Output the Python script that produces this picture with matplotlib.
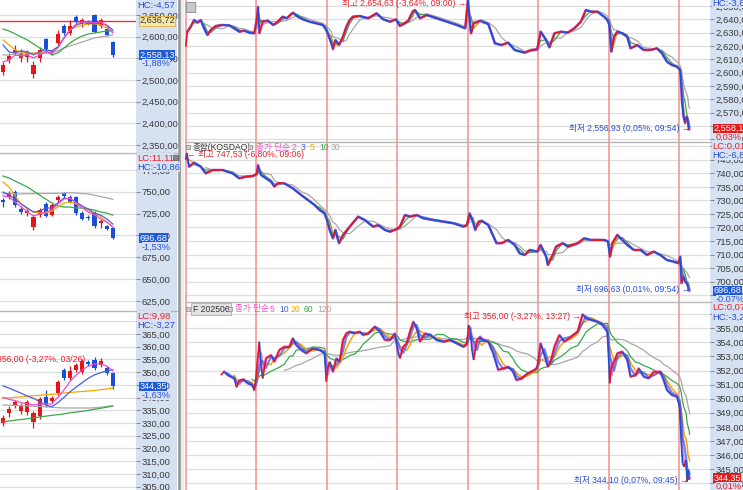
import numpy as np
import pandas as pd
import matplotlib
matplotlib.use("Agg")
import matplotlib.pyplot as plt
from matplotlib.collections import LineCollection
from matplotlib.patches import Rectangle, FancyBboxPatch
from matplotlib.lines import Line2D
from matplotlib.ticker import FuncFormatter

plt.rcParams['font.family'] = ['Liberation Sans', 'Noto Sans CJK KR', 'DejaVu Sans']

# ---------------- daily candles (left column) ----------------
kospi_d_open = [2518.7, 2546.3, 2565.0, 2550.9, 2553.2, 2514.0, 2550.9, 2594.7, 2562.4, 2585.5,
                2624.7, 2608.5, 2645.4, 2633.9, 2631.6, 2650.0, 2624.7, 2617.7, 2587.8]
kospi_d_high = [2541.7, 2562.4, 2580.9, 2571.7, 2569.4, 2544.0, 2576.3, 2597.0, 2569.4, 2615.4,
                2629.3, 2638.5, 2650.0, 2643.1, 2638.5, 2652.3, 2643.1, 2622.4, 2590.1]
kospi_d_low = [2511.8, 2539.4, 2557.8, 2541.7, 2541.7, 2504.8, 2541.7, 2564.8, 2557.8, 2580.9,
               2603.9, 2603.9, 2631.6, 2622.4, 2627.0, 2608.5, 2620.0, 2601.6, 2553.2]
kospi_d_close = [2534.8, 2555.5, 2569.4, 2562.4, 2564.7, 2534.8, 2569.4, 2571.7, 2567.0, 2606.2,
                 2608.5, 2624.7, 2633.9, 2638.5, 2629.3, 2610.8, 2638.5, 2603.9, 2558.13]
kospi_d_ma5 = [2541.7, 2546.3, 2557.8, 2555.5, 2557.8, 2550.9, 2557.8, 2564.8, 2562.4, 2574.0,
               2597.0, 2615.4, 2629.3, 2633.9, 2633.9, 2631.6, 2633.9, 2624.7, 2608.5]
kospi_d_ma10 = [2580.9, 2564.8, 2562.4, 2567.1, 2564.8, 2557.8, 2564.8, 2569.4, 2567.1, 2576.3,
                2597.0, 2615.4, 2627.0, 2631.6, 2631.6, 2629.3, 2631.6, 2627.0, 2615.4]
kospi_d_ma20 = [2592.4, 2580.9, 2569.4, 2564.8, 2562.4, 2562.4, 2562.4, 2562.4, 2567.1, 2576.3,
                2597.0, 2615.4, 2622.3, 2627.0, 2629.3, 2629.3, 2627.0, 2620.0, 2610.8]
kospi_d_ma60 = [2617.7, 2613.1, 2606.2, 2599.3, 2592.4, 2583.2, 2574.0, 2567.1, 2557.8, 2562.4,
                2574.0, 2585.5, 2594.7, 2601.6, 2606.2, 2608.5, 2610.8, 2613.1, 2613.1]
kospi_d_ma120 = [2557.8, 2557.8, 2560.1, 2560.1, 2560.1, 2561.2, 2562.4, 2562.4, 2562.4, 2567.1,
                 2574.0, 2578.6, 2583.2, 2587.8, 2592.4, 2597.0, 2599.3, 2601.6, 2603.9]
kospi_prev_level = 2636.72

kosdaq_d_open = [740.5, 743.9, 749.7, 730.2, 725.7, 709.6, 723.3, 735.9, 723.3, 740.5,
                 748.5, 743.9, 743.9, 725.6, 721.1, 725.6, 714.2, 710.8, 708.5]
kosdaq_d_high = [742.8, 750.8, 751.9, 733.6, 731.4, 723.3, 731.4, 738.2, 737.1, 746.2,
                 749.7, 746.2, 745.1, 727.9, 723.3, 727.9, 718.8, 712.0, 709.6]
kosdaq_d_low = [732.5, 741.6, 732.5, 724.5, 722.2, 706.2, 721.1, 721.1, 722.2, 738.2,
                742.8, 737.1, 723.3, 717.6, 717.6, 708.5, 708.5, 706.2, 695.9]
kosdaq_d_close = [738.2, 748.5, 734.8, 726.8, 727.9, 721.1, 729.1, 722.2, 734.8, 743.9,
                  745.1, 738.2, 725.6, 718.8, 719.9, 710.8, 716.5, 707.3, 696.68]
kosdaq_d_ma5 = [745.1, 743.9, 738.2, 732.5, 726.8, 722.2, 724.5, 726.8, 729.1, 735.9,
                741.6, 742.8, 737.1, 731.4, 726.8, 723.3, 718.8, 715.3, 709.6]
kosdaq_d_ma10 = [749.7, 746.2, 741.6, 735.9, 731.4, 726.8, 727.9, 731.4, 731.4, 737.1,
                 742.8, 741.6, 738.2, 733.6, 730.2, 725.6, 723.3, 718.8, 713.0]
kosdaq_d_ma20 = [761.1, 755.4, 745.1, 736.0, 730.2, 726.8, 725.6, 725.6, 727.9, 732.5,
                 737.1, 738.2, 736.0, 731.4, 727.9, 725.6, 721.0, 715.3, 709.6]
kosdaq_d_ma60 = [768.0, 765.7, 762.2, 758.8, 755.4, 750.8, 746.2, 741.6, 737.1, 733.6,
                 732.5, 732.5, 731.4, 731.4, 730.2, 729.1, 726.8, 725.6, 723.3]
kosdaq_d_ma120 = [747.5, 747.5, 747.5, 747.5, 747.6, 747.8, 748.0, 748.0, 748.0, 748.2,
                  748.5, 748.9, 748.5, 747.8, 747.4, 746.0, 744.5, 743.0, 741.3]

fut_d_open = [330.0, 334.0, 337.1, 334.7, 334.4, 330.4, 332.8, 340.2, 338.7, 341.8,
              350.9, 347.7, 350.9, 350.1, 354.0, 354.8, 352.8, 351.6, 349.7]
fut_d_high = [333.2, 336.7, 339.1, 337.9, 339.1, 334.7, 340.2, 343.0, 340.6, 346.9,
              351.6, 352.4, 353.6, 355.2, 354.8, 356.0, 355.6, 352.4, 350.1]
fut_d_low = [328.9, 332.4, 335.9, 333.6, 333.2, 328.1, 331.6, 336.3, 337.9, 341.0,
             346.9, 346.9, 350.1, 349.3, 352.4, 350.9, 352.0, 348.9, 343.4]
fut_d_close = [332.0, 335.5, 338.3, 336.7, 338.3, 334.0, 339.5, 337.1, 339.9, 346.1,
               347.7, 350.5, 352.8, 354.4, 353.2, 351.6, 354.4, 349.7, 344.35]
fut_d_ma5 = [340.1, 339.3, 338.8, 338.0, 337.5, 337.1, 337.4, 337.5, 337.5, 340.1,
             343.0, 346.3, 348.9, 350.9, 352.4, 353.2, 353.2, 352.4, 350.6]
fut_d_ma10 = [344.6, 343.7, 342.7, 341.7, 340.6, 339.7, 338.4, 337.1, 336.4, 338.0,
              340.1, 342.3, 344.1, 345.9, 347.6, 348.9, 349.8, 350.5, 350.9]
fut_d_ma20 = [339.7, 339.9, 340.1, 340.3, 340.5, 340.7, 340.9, 341.1, 341.3, 341.5,
              341.8, 342.0, 342.2, 342.4, 342.6, 342.8, 343.1, 343.4, 343.7]
fut_d_ma60 = [330.5, 330.8, 331.1, 331.4, 331.7, 332.0, 332.4, 332.7, 333.0, 333.3,
              333.6, 334.0, 334.3, 334.6, 335.0, 335.4, 335.8, 336.2, 336.7]
fut_d_ma120 = [337.1, 337.0, 336.9, 336.8, 336.7, 336.6, 336.5, 336.4, 336.2, 336.0,
               335.9, 335.9, 335.9, 335.9, 335.9, 336.0, 336.2, 336.5, 336.8]

# ---------------- intraday (right column), t = session day index + fraction ----------------
kospi_t = [0.000, 0.024, 0.071, 0.119, 0.166, 0.214, 0.261, 0.309, 0.356, 0.428, 0.523, 0.618, 0.689,
           0.760, 0.831, 0.903, 0.974, 1.007, 1.026, 1.045, 1.093, 1.164, 1.245, 1.306, 1.378, 1.435,
           1.520, 1.591, 1.663, 1.758, 1.853, 1.948, 1.995, 2.033, 2.067, 2.090, 2.124, 2.176, 2.233,
           2.280, 2.328, 2.375, 2.470, 2.589, 2.708, 2.803, 2.898, 2.983, 3.040, 3.088, 3.159, 3.221,
           3.254, 3.325, 3.420, 3.563, 3.705, 3.848, 3.967, 4.005, 4.048, 4.086, 4.181, 4.200, 4.294,
           4.388, 4.482, 4.576, 4.669, 4.810, 4.904, 4.989, 5.036, 5.115, 5.162, 5.233, 5.327, 5.421,
           5.515, 5.608, 5.679, 5.749, 5.843, 5.937, 5.984, 6.012, 6.040, 6.078, 6.125, 6.195, 6.266,
           6.313, 6.407, 6.500, 6.594, 6.688, 6.759, 6.829, 6.900, 6.970, 7.017, 7.040, 7.064, 7.087,
           7.111, 7.125, 7.138, 7.148]
kospi_p = [2619.5, 2630.75, 2634.5, 2639.5, 2637.5, 2639.5, 2633.25, 2628.25, 2632.0, 2635.0, 2635.75,
           2635.5, 2633.25, 2630.75, 2631.5, 2630.0, 2629.5, 2639.5, 2649.5, 2629.5, 2638.25, 2639.0,
           2635.75, 2638.25, 2642.0, 2640.75, 2645.0, 2642.0, 2640.0, 2638.25, 2637.0, 2635.75, 2632.0,
           2627.0, 2622.0, 2617.5, 2624.5, 2620.75, 2627.0, 2634.5, 2639.5, 2642.0, 2642.5, 2640.75,
           2644.5, 2640.0, 2638.25, 2640.0, 2635.0, 2636.5, 2639.0, 2645.75, 2647.0, 2640.75, 2643.25,
           2640.75, 2638.25, 2635.75, 2633.25, 2654.63, 2629.5, 2637.0, 2639.0, 2638.25, 2636.5, 2622.0,
           2620.75, 2622.5, 2617.0, 2615.0, 2617.0, 2617.5, 2630.75, 2624.5, 2619.0, 2629.5, 2630.75,
           2630.0, 2633.25, 2638.25, 2647.0, 2645.75, 2645.75, 2642.0, 2639.5, 2635.75, 2615.75, 2627.0,
           2630.75, 2629.5, 2627.0, 2618.25, 2620.75, 2617.0, 2617.0, 2618.25, 2614.5, 2608.25, 2605.75,
           2604.5, 2602.0, 2579.5, 2567.0, 2562.0, 2567.0, 2563.25, 2556.93, 2558.13]

kosdaq_t = [0.000, 0.015, 0.048, 0.119, 0.214, 0.285, 0.380, 0.523, 0.665, 0.760, 0.855, 0.950, 1.007,
            1.026, 1.069, 1.140, 1.211, 1.259, 1.306, 1.401, 1.520, 1.639, 1.734, 1.829, 1.900, 1.971,
            2.005, 2.043, 2.090, 2.124, 2.176, 2.233, 2.328, 2.447, 2.542, 2.660, 2.732, 2.827, 2.898,
            2.983, 3.040, 3.112, 3.183, 3.278, 3.373, 3.515, 3.658, 3.800, 3.943, 3.990, 4.029, 4.076,
            4.109, 4.157, 4.200, 4.294, 4.411, 4.482, 4.576, 4.669, 4.740, 4.810, 4.881, 4.989, 5.036,
            5.115, 5.139, 5.209, 5.256, 5.350, 5.421, 5.562, 5.655, 5.749, 5.843, 5.937, 5.993, 6.022,
            6.054, 6.125, 6.195, 6.266, 6.360, 6.454, 6.547, 6.641, 6.735, 6.829, 6.923, 6.993, 7.017,
            7.035, 7.064, 7.087, 7.111, 7.125, 7.138, 7.148]
kosdaq_p = [744.9, 747.53, 742.45, 743.9, 742.45, 740.0, 741.2, 741.2, 740.0, 738.15, 738.75, 739.0,
            739.75, 743.1, 739.4, 738.15, 736.9, 735.1, 736.3, 736.3, 734.45, 732.0, 730.15, 728.3,
            726.45, 725.2, 722.75, 719.1, 716.0, 719.1, 714.2, 717.25, 720.3, 724.0, 722.75, 720.3,
            720.9, 719.1, 718.45, 719.3, 720.3, 724.6, 724.0, 724.6, 723.4, 722.75, 722.15, 721.55,
            720.3, 720.9, 725.2, 722.15, 719.1, 722.15, 722.5, 720.9, 714.2, 714.2, 715.4, 713.55,
            710.45, 709.85, 711.7, 711.1, 713.55, 709.25, 706.15, 709.85, 712.95, 714.2, 712.95, 714.2,
            716.0, 715.4, 715.4, 715.4, 714.8, 709.25, 714.2, 717.25, 715.4, 713.55, 711.7, 711.7,
            709.85, 711.1, 709.85, 708.0, 707.4, 706.8, 709.25, 699.4, 701.85, 700.0, 699.4, 698.2,
            696.63, 696.68]

fut_t = [0.499, 0.546, 0.594, 0.641, 0.689, 0.722, 0.760, 0.817, 0.879, 0.941, 0.974, 0.998, 1.021,
         1.045, 1.069, 1.093, 1.140, 1.211, 1.259, 1.330, 1.401, 1.473, 1.520, 1.568, 1.639, 1.710,
         1.805, 1.900, 1.971, 1.995, 2.019, 2.043, 2.090, 2.138, 2.185, 2.233, 2.280, 2.328, 2.399,
         2.470, 2.518, 2.589, 2.684, 2.755, 2.827, 2.898, 2.969, 3.017, 3.040, 3.088, 3.135, 3.183,
         3.230, 3.278, 3.325, 3.397, 3.468, 3.563, 3.658, 3.753, 3.848, 3.943, 3.990, 4.014, 4.038,
         4.062, 4.086, 4.133, 4.181, 4.200, 4.294, 4.364, 4.435, 4.505, 4.576, 4.646, 4.693, 4.763,
         4.857, 4.951, 4.989, 5.036, 5.092, 5.139, 5.186, 5.233, 5.303, 5.374, 5.468, 5.562, 5.632,
         5.679, 5.749, 5.843, 5.914, 5.984, 6.017, 6.040, 6.078, 6.125, 6.195, 6.266, 6.313, 6.383,
         6.430, 6.500, 6.571, 6.641, 6.735, 6.782, 6.829, 6.900, 6.970, 7.008, 7.031, 7.050, 7.073,
         7.101, 7.115, 7.130, 7.144, 7.150]
fut_p = [351.68, 351.92, 351.68, 351.56, 351.44, 350.80, 351.32, 351.37, 351.09, 350.97, 350.57, 351.56,
         352.86, 354.05, 352.27, 351.44, 352.86, 353.10, 352.63, 353.46, 353.69, 353.69, 354.29, 353.81,
         353.46, 353.22, 353.57, 353.46, 353.22, 351.21, 352.27, 352.63, 351.92, 352.86, 352.63, 354.17,
         354.64, 354.76, 354.64, 354.76, 354.52, 354.64, 355.11, 354.76, 354.17, 354.17, 354.64, 353.22,
         352.86, 353.69, 353.93, 354.76, 355.47, 355.00, 354.05, 354.64, 354.52, 354.17, 354.05, 354.17,
         353.93, 353.69, 353.93, 355.23, 354.88, 353.46, 352.75, 354.17, 354.40, 354.17, 354.05, 353.22,
         352.04, 352.15, 352.27, 351.92, 351.32, 351.44, 351.80, 352.04, 352.27, 353.93, 353.10, 352.27,
         352.75, 353.69, 354.52, 354.05, 354.40, 354.76, 356.00, 355.71, 355.59, 355.47, 355.23, 354.76,
         351.09, 352.27, 352.63, 353.22, 353.34, 352.75, 351.56, 351.68, 352.15, 351.56, 351.44, 351.92,
         351.92, 351.32, 350.61, 350.26, 350.14, 349.43, 347.06, 345.40, 345.16, 345.64, 344.10, 344.90,
         344.22, 344.35]

# ---------------- style ----------------
W, H = 743, 490
fig = plt.figure(figsize=(W / 100, H / 100), dpi=100)
fig.patch.set_facecolor('white')

UP, DN = '#e8141c', '#1a4fd6'
PINK, BLUE, ORANGE, GREEN, GREY = '#f04cc8', '#4a5ee0', '#f5a800', '#3aa84a', '#a8a8a8'
SEP = '#f09090'
AXBG = '#d6e2f2'
RED_T, BLUE_T = '#e8202a', '#2a4fd6'


def add_ax(x0, y0, x1, y1):
    return fig.add_axes([x0 / W, 1 - y1 / H, (x1 - x0) / W, (y1 - y0) / H])


def ftext(x, y, s, **kw):
    kw.setdefault('va', 'center')
    kw.setdefault('ha', 'left')
    kw.setdefault('fontsize', 6.8)
    return fig.text(x / W, 1 - y / H, s, **kw)


def frect(x0, y0, x1, y1, **kw):
    r = Rectangle((x0 / W, 1 - y1 / H), (x1 - x0) / W, (y1 - y0) / H, transform=fig.transFigure, **kw)
    fig.add_artist(r)
    return r


def fline(x0, y0, x1, y1, **kw):
    fig.add_artist(Line2D([x0 / W, x1 / W], [1 - y0 / H, 1 - y1 / H], transform=fig.transFigure, **kw))


def kfmt(v, pos=None):
    return f"{v:,.2f}".replace('.', ',')


def style(ax, ylim, ticks):
    ax.set_ylim(*ylim)
    ax.set_yticks(ticks)
    ax.yaxis.tick_right()
    ax.yaxis.set_major_formatter(FuncFormatter(kfmt))
    ax.tick_params(axis='y', direction='out', length=3, width=0.6, color='#777', pad=1,
                   labelsize=6.8, labelcolor='#3a3a3a')
    ax.set_xticks([])
    for s in ax.spines.values():
        s.set_visible(False)
    ax.grid(axis='y', color='#dedede', lw=0.9)
    ax.set_axisbelow(True)
    ax.set_facecolor('white')


# axis backgrounds
frect(136, 0, 177, H, facecolor=AXBG, edgecolor='none', zorder=-5)
frect(710, 0, W, H, facecolor=AXBG, edgecolor='none', zorder=-5)


def draw_daily(ax, o, h, l, c, mas, xlim):
    o, h, l, c = map(np.asarray, (o, h, l, c))
    x = np.arange(len(o))
    cols = np.where(c >= o, UP, DN)
    ax.vlines(x, l, h, colors=cols, lw=0.9, zorder=2)
    rng = ax.get_ylim()[1] - ax.get_ylim()[0]
    body = np.maximum(np.abs(c - o), rng * 0.006)
    ax.bar(x, body, bottom=np.minimum(o, c), width=0.66, color=cols, zorder=3)
    for vals, col in mas:
        ax.plot(x, vals, color=col, lw=0.9, zorder=4)
    ax.set_xlim(*xlim)


def intraday_ma(t, p, minutes):
    t = np.asarray(t, float)
    idx = pd.Timestamp('2025-01-01') + pd.to_timedelta(t * 390, unit='min')
    s = pd.Series(np.asarray(p, float), index=idx)
    m = s.rolling(f'{minutes}min').mean().to_numpy()
    m[(t - t[0]) * 390 < minutes * 0.95] = np.nan
    return m


def draw_intraday(ax, t, p, windows):
    t = np.asarray(t, float)
    p = np.asarray(p, float)
    for d in range(8):
        ax.axvline(d, color=SEP, lw=1.1, zorder=1)
    pts = np.column_stack([t, p])
    segs = np.stack([pts[:-1], pts[1:]], axis=1)
    cols = np.where(np.diff(p) >= 0, UP, DN)
    (w1, c1), (w2, c2), (w3, c3), (w4, c4), (w5, c5) = windows
    ax.plot(t, intraday_ma(t, p, w5), color=c5, lw=0.9, zorder=2)
    ax.plot(t, intraday_ma(t, p, w4), color=c4, lw=0.9, zorder=2.1)
    ax.plot(t, intraday_ma(t, p, w3), color=c3, lw=1.1, zorder=2.2)
    ax.plot(t, intraday_ma(t, p, w1), color=c1, lw=1.9, zorder=2.3, alpha=0.75)
    ax.plot(t, intraday_ma(t, p, w2), color=c2, lw=1.6, zorder=2.4, alpha=0.75)
    ax.add_collection(LineCollection(segs, colors=cols, linewidths=1.2, zorder=3))
    ax.set_xlim(-0.01, 7.44)


# ---------------- left column ----------------
XL = (-0.49, 21.8)
ax1 = add_ax(0, 0, 136, 153)
style(ax1, (2331.6, 2684.6), np.arange(2350, 2651, 50))
ax1.axhline(kospi_prev_level, color='#f03030', lw=1.0, zorder=1)
draw_daily(ax1, kospi_d_open, kospi_d_high, kospi_d_low, kospi_d_close,
           [(kospi_d_ma120, GREY), (kospi_d_ma60, GREEN), (kospi_d_ma20, ORANGE),
            (kospi_d_ma10, BLUE), (kospi_d_ma5, PINK)], XL)

ax2 = add_ax(0, 153, 136, 311)
style(ax2, (613.6, 794.3), np.arange(625, 776, 25))
draw_daily(ax2, kosdaq_d_open, kosdaq_d_high, kosdaq_d_low, kosdaq_d_close,
           [(kosdaq_d_ma120, GREY), (kosdaq_d_ma60, GREEN), (kosdaq_d_ma20, ORANGE),
            (kosdaq_d_ma10, BLUE), (kosdaq_d_ma5, PINK)], XL)

ax3 = add_ax(0, 311, 136, 490)
style(ax3, (303.7, 374.0), np.arange(305, 371, 5))
draw_daily(ax3, fut_d_open, fut_d_high, fut_d_low, fut_d_close,
           [(fut_d_ma120, GREY), (fut_d_ma60, GREEN), (fut_d_ma20, ORANGE),
            (fut_d_ma10, BLUE), (fut_d_ma5, PINK)], XL)
i_hi = int(np.argmax(fut_d_high))
ax3.annotate("최고 356,00 (-3,27%, 03/26)", xy=(i_hi, fut_d_high[i_hi]), xytext=(-7, -2),
             textcoords='offset points', ha='right', va='center', fontsize=6.2, color=RED_T,
             annotation_clip=False, zorder=6)

# ---------------- right column ----------------
W_A = [(6, PINK), (9, BLUE), (15, ORANGE), (30, GREEN), (90, GREY)]
W_B = [(15, PINK), (30, BLUE), (60, ORANGE), (180, GREEN), (360, GREY)]

bx1 = add_ax(185, 0, 710, 142)
style(bx1, (2548.0, 2654.5), np.arange(2550, 2651, 10))
draw_intraday(bx1, kospi_t, kospi_p, W_A)

bx2 = add_ax(185, 142, 710, 302)
style(bx2, (692.5, 751.55), np.arange(695, 751, 5))
draw_intraday(bx2, kosdaq_t, kosdaq_p, W_A)

bx3 = add_ax(185, 302, 710, 490)
style(bx3, (343.51, 356.87), np.arange(344, 357, 1))
draw_intraday(bx3, fut_t, fut_p, W_B)


def hi_lo(ax, t, p, hi_txt, lo_txt, hi_left=False, hi_dy=-1.5):
    t = np.asarray(t)
    p = np.asarray(p)
    ih, il = int(np.argmax(p)), int(np.argmin(p))
    if hi_left:
        ax.annotate(hi_txt, xy=(t[ih], p[ih]), xytext=(0, hi_dy), textcoords='offset points',
                    ha='left', va='center', fontsize=6.2, color=RED_T, annotation_clip=False, zorder=6)
    else:
        ax.annotate(hi_txt, xy=(t[ih], p[ih]), xytext=(-1, hi_dy), textcoords='offset points',
                    ha='right', va='center', fontsize=6.2, color=RED_T, annotation_clip=False, zorder=6)
    ax.annotate(lo_txt, xy=(t[il], p[il]), xytext=(1, 1), textcoords='offset points',
                ha='right', va='center', fontsize=6.2, color=BLUE_T, annotation_clip=False, zorder=6)


hi_lo(bx1, kospi_t, kospi_p, "최고 2,654,63 (-3,64%, 09:00) →", "최저 2,556,93 (0,05%, 09:54) →", hi_dy=-2.5)
hi_lo(bx2, kosdaq_t, kosdaq_p, "← 최고 747,53 (-6,80%, 09:06)", "최저 696,63 (0,01%, 09:54) →",
      hi_left=True, hi_dy=-1)
hi_lo(bx3, fut_t, fut_p, "최고 356,00 (-3,27%, 13:27) →", "최저 344,10 (0,07%, 09:45) →")


def value_box(ax, val, fc, sub, subc, tc='white'):
    ax.annotate(kfmt(val), xy=(1, val), xycoords=('axes fraction', 'data'), xytext=(2.5, 0),
                textcoords='offset points', ha='left', va='center', fontsize=6.6, color=tc,
                bbox=dict(boxstyle='square,pad=0.04', fc=fc, ec='none'), zorder=10, annotation_clip=False)
    ax.annotate(sub, xy=(1, val), xycoords=('axes fraction', 'data'), xytext=(4, -6.2),
                textcoords='offset points', ha='left', va='center', fontsize=6.6, color=subc,
                zorder=10, annotation_clip=False,
                bbox=dict(boxstyle='square,pad=0.0', fc=AXBG, ec='none'))


value_box(ax1, kospi_d_close[-1], '#1f5ad8', '-1,88%', BLUE_T)
ax1.annotate(kfmt(kospi_prev_level), xy=(1, kospi_prev_level), xycoords=('axes fraction', 'data'),
             xytext=(2.5, 0), textcoords='offset points', ha='left', va='center', fontsize=6.6,
             color='#333', bbox=dict(boxstyle='square,pad=0.04', fc='#f6e9a8', ec='#e0b040', lw=0.6),
             zorder=10, annotation_clip=False)
value_box(ax2, kosdaq_d_close[-1], '#1f5ad8', '-1,53%', BLUE_T)
value_box(ax3, fut_d_close[-1], '#1f5ad8', '-1,63%', BLUE_T)
value_box(bx1, kospi_p[-1], '#e81818', '0,03%', RED_T)
value_box(bx2, kosdaq_p[-1], '#1f5ad8', '-0,07%', BLUE_T)
value_box(bx3, fut_p[-1], '#e81818', '0,01%', RED_T)

# HC / LC labels (drawn over the axis labels, as in the terminal)
LB = dict(boxstyle='square,pad=0.02', fc=AXBG, ec='none')
ftext(137, -2, "LC:12,66", color=RED_T, bbox=LB, zorder=8)
ftext(137, 5, "HC:-4,57", color=BLUE_T, bbox=LB, zorder=8)
ftext(137, 158, "LC:11,11", color=RED_T, bbox=LB, zorder=8)
ftext(137, 167, "HC:-10,86", color=BLUE_T, bbox=LB, zorder=8)
ftext(137, 316, "LC:9,98", color=RED_T, bbox=LB, zorder=8)
ftext(137, 325, "HC:-3,27", color=BLUE_T, bbox=LB, zorder=8)
ftext(712, 3, "HC:-3,64", color=BLUE_T, bbox=LB, zorder=8)
ftext(712, 146, "LC:0,01", color=RED_T, bbox=LB, zorder=8)
ftext(712, 155, "HC:-6,80", color=BLUE_T, bbox=LB, zorder=8)
ftext(712, 307, "LC:0,07", color=RED_T, bbox=LB, zorder=8)
ftext(712, 317, "HC:-3,27", color=BLUE_T, bbox=LB, zorder=8)

# separators
fline(0, 153, 177, 153, color='#b8b8b8', lw=1.0, zorder=5)
fline(0, 311, 177, 311, color='#b8b8b8', lw=1.0, zorder=5)
fline(185, 142, W, 142, color='#b8b8b8', lw=1.0, zorder=5)
fline(185, 302, W, 302, color='#b8b8b8', lw=1.0, zorder=5)
fline(178.5, 0, 178.5, H, color='#9a9a9a', lw=2.0, zorder=5)
frect(180, 0, 184, H, facecolor='#eeeeee', edgecolor='none', zorder=4)

# icons
fig.add_artist(FancyBboxPatch((187 / W, 1 - 12 / H), 8 / W, 9 / H, boxstyle='round,pad=0.001',
                              transform=fig.transFigure, fc='#c8c8c8', ec='#888888', lw=0.6, zorder=6))
ftext(191, 7.5, "=", color='#555', fontsize=6, ha='center')
frect(173, 155, 178, 160, facecolor='#888888', edgecolor='#555', lw=0.5, zorder=9)

# legends
frect(186, 145, 190, 149, facecolor='#d0d0d0', edgecolor='#888', lw=0.5, zorder=6)
ftext(193, 147, "종합(KOSDAQ)", color='#333', fontsize=6.2)
frect(248, 145, 252, 149, facecolor='#d0d0d0', edgecolor='#888', lw=0.5, zorder=6)
ftext(256, 147, "종가 단순", color=PINK, fontsize=6.2)
for x, s, c in [(292, '2', PINK), (301, '3', BLUE), (310, '5', ORANGE), (319, '10', GREEN), (331, '30', GREY)]:
    ftext(x, 147, s, color=c, fontsize=6.2)

frect(186, 307, 190, 311, facecolor='#d0d0d0', edgecolor='#888', lw=0.5, zorder=6)
ftext(193, 309, "F 202506", color='#333', fontsize=6.2,
      bbox=dict(boxstyle='square,pad=0.2', fc='#e2e2e2', ec='#a0a0a0', lw=0.5))
frect(228, 307, 232, 311, facecolor='#d0d0d0', edgecolor='#888', lw=0.5, zorder=6)
ftext(235, 309, "종가 단순", color=PINK, fontsize=6.2)
for x, s, c in [(270, '5', PINK), (279, '10', BLUE), (291, '20', ORANGE), (304, '60', GREEN), (317, '120', GREY)]:
    ftext(x, 309, s, color=c, fontsize=6.2)

fig.savefig('out.png', dpi=100, facecolor='white')
